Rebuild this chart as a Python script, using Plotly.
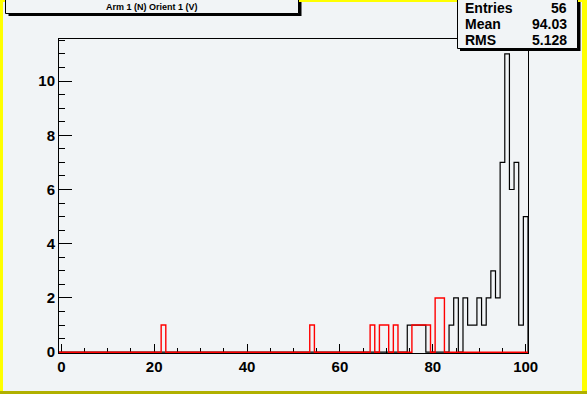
import plotly.graph_objects as go

# ---- data (histograms: 101 integer-centred bins from -0.5 to 100.5) ----
black_bins   = [75, 76, 77, 78, 84, 85, 87, 88, 89, 90, 91, 92, 93, 94, 95, 96, 97, 98, 99, 100]
black_counts = [1, 1, 1, 1, 1, 2, 2, 1, 1, 2, 1, 2, 3, 2, 7, 11, 6, 7, 1, 5]
red_bins     = [22, 54, 67, 69, 70, 72, 76, 77, 78, 79, 81, 82]
red_counts   = [1, 1, 1, 1, 1, 1, 1, 1, 1, 1, 2, 2]
x_tick_vals  = [0, 20, 40, 60, 80, 100]
y_tick_vals  = [0, 2, 4, 6, 8, 10]
stats_labels = ["Entries", "Mean", "RMS"]
stats_values = ["56", "94.03", "5.128"]
title_text   = "Arm 1 (N) Orient 1 (V)"

N_BINS, LO, HI = 101, -0.5, 100.5


def step_xy(bins, counts):
    full = [0] * N_BINS
    for b, c in zip(bins, counts):
        full[int(b - LO - 0.5)] = c
    edges = [LO + i for i in range(N_BINS)]
    xs = [LO] + edges + [HI, HI]
    ys = [0] + full + [full[-1], 0]
    return xs, ys


bx, by = step_xy(black_bins, black_counts)
rx, ry = step_xy(red_bins, red_counts)

BG = "#f1f4f6"
FONT = "Liberation Sans, Arial, Helvetica, sans-serif"

fig = go.Figure()
fig.add_trace(go.Scatter(x=bx, y=by, mode="lines", line_shape="hv",
                         line=dict(color="black", width=1.2), hoverinfo="skip"))
fig.add_trace(go.Scatter(x=rx, y=ry, mode="lines", line_shape="hv",
                         line=dict(color="#ff0000", width=1.4), hoverinfo="skip"))

# ---- geometry helpers (pixel -> paper) ----
WID, HEI = 587, 394
L, R, T, B = 59, 528, 39, 353
PW, PH = R - L, B - T


def X(px):
    return (px - L) / PW


def Y(py):
    return (B - py) / PH


def rect(x0, y0, x1, y1, fill, line_color=None, lw=0):
    return dict(type="rect", xref="paper", yref="paper",
                x0=X(x0), x1=X(x1), y0=Y(y1), y1=Y(y0),
                fillcolor=fill,
                line=dict(color=line_color or fill, width=lw), layer="above")


shapes = [
    # canvas border
    rect(0, 0, 3, 394, "#ffff00"),
    rect(0, 0, 587, 2, "#ffff00"),
    rect(582, 0, 587, 391, "#ffff00"),
    rect(0, 391, 587, 394, "#b0b000"),
    # stats box with shadow
    rect(460, 2, 580.5, 51, "black"),
    rect(457.5, -2, 577.5, 48.5, BG, "black", 1),
    # title box with shadow
    rect(8.5, 2, 301.5, 16, "black"),
    rect(5.5, -2, 298.5, 13.5, BG, "black", 1),
]

annotations = [dict(text=title_text, xref="paper", yref="paper", x=X(152), y=Y(7),
                    xanchor="center", yanchor="middle", showarrow=False,
                    font=dict(family=FONT, size=9, color="black", weight="bold"))]
for i, (lab, val) in enumerate(zip(stats_labels, stats_values)):
    yy = Y(7.5 + 16.2 * i)
    annotations.append(dict(text=lab, xref="paper", yref="paper", x=X(463), y=yy,
                            xanchor="left", yanchor="middle", showarrow=False,
                            font=dict(family=FONT, size=14, color="black", weight="bold")))
    annotations.append(dict(text=val, xref="paper", yref="paper", x=X(569), y=yy,
                            xanchor="right", yanchor="middle", showarrow=False,
                            font=dict(family=FONT, size=14, color="black", weight="bold")))

tickfont = dict(family=FONT, size=15, color="black", weight="bold")

fig.update_layout(
    width=WID, height=HEI, autosize=False,
    margin=dict(l=L, r=WID - R, t=T, b=HEI - B, pad=0),
    paper_bgcolor=BG, plot_bgcolor=BG,
    showlegend=False,
    shapes=shapes, annotations=annotations,
    xaxis=dict(range=[LO, HI], tickmode="array", tickvals=x_tick_vals,
               ticktext=[str(v) for v in x_tick_vals],
               ticks="inside", ticklen=9, tickwidth=1, tickcolor="black",
               minor=dict(ticks="inside", ticklen=5, dtick=5, tick0=0, tickcolor="black", tickwidth=1),
               showline=True, mirror=True, linecolor="black", linewidth=1,
               showgrid=False, zeroline=False, tickfont=tickfont, layer="below traces"),
    yaxis=dict(range=[-0.03, 11.55], tickmode="array", tickvals=y_tick_vals,
               ticktext=[str(v) for v in y_tick_vals],
               ticks="inside", ticklen=13, tickwidth=1, tickcolor="black",
               minor=dict(ticks="inside", ticklen=6, dtick=0.5, tick0=0, tickcolor="black", tickwidth=1),
               showline=True, mirror=True, linecolor="black", linewidth=1,
               showgrid=False, zeroline=False, tickfont=tickfont, layer="below traces"),
)

fig.write_html(
    "out.html",
    config={"displayModeBar": False},
    post_script="document.body.style.margin='0';document.body.style.overflow='hidden';",
)
